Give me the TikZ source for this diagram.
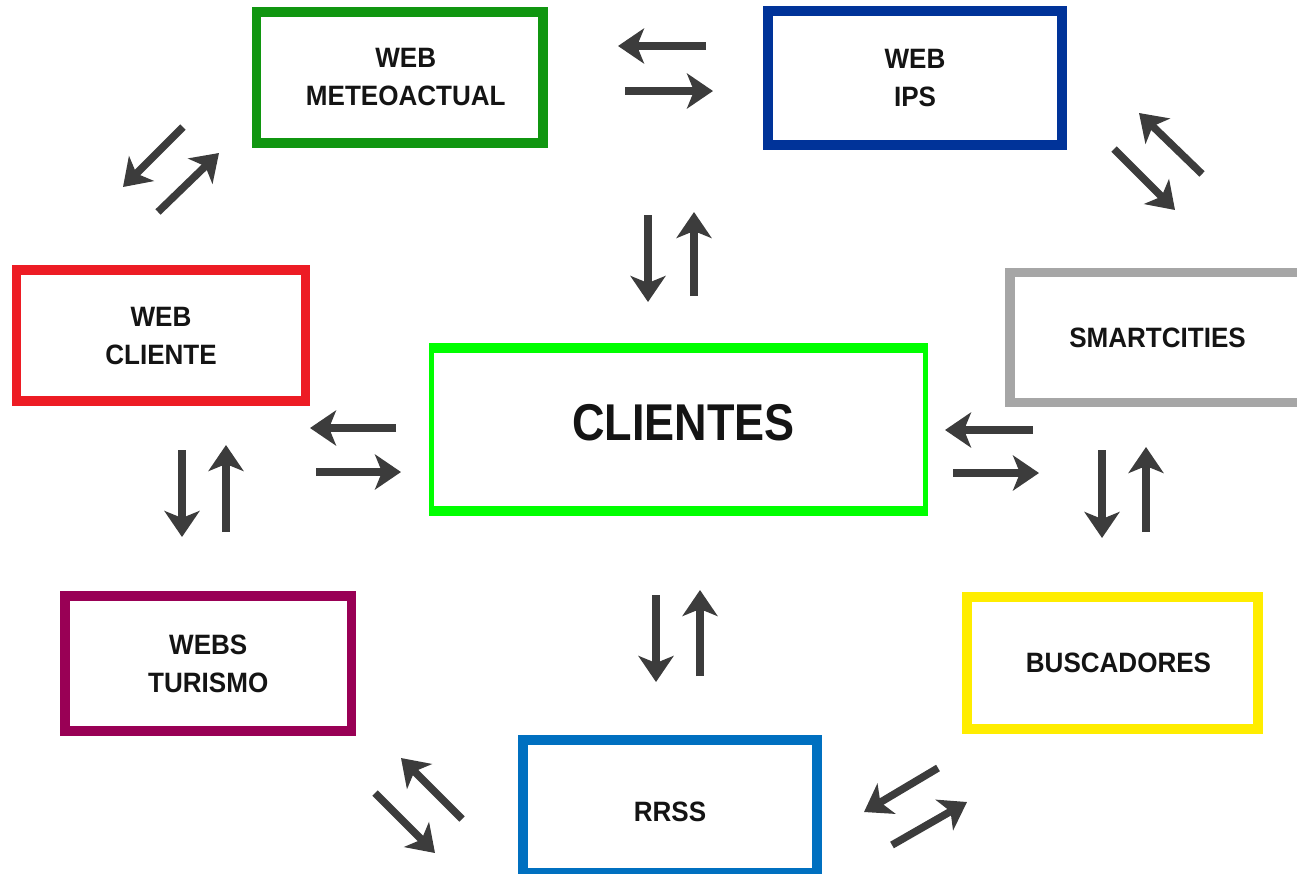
\documentclass[tikz,border=0pt]{standalone}
\usepackage{fontspec}
\setmainfont{Liberation Sans}
\newfontfamily\lblfont{Liberation Sans}[FakeStretch=0.93]
\usetikzlibrary{arrows.meta}
\definecolor{cMeteo}{RGB}{16,150,16}
\definecolor{cIps}{RGB}{0,51,153}
\definecolor{cCliente}{RGB}{237,28,36}
\definecolor{cClientes}{RGB}{0,255,0}
\definecolor{cSmart}{RGB}{166,166,166}
\definecolor{cTurismo}{RGB}{153,0,85}
\definecolor{cBusca}{RGB}{255,237,0}
\definecolor{cRrss}{RGB}{0,112,192}
\definecolor{arrowgray}{RGB}{60,60,60}
\tikzset{
  box/.style={draw, line width=9.5pt, fill=white, inner sep=0pt, align=center,
    font=\lblfont\bfseries\fontsize{28}{38}\selectfont, text=black!92},
  arr/.style={draw=arrowgray, line width=7.5pt,
    -{Stealth[length=26pt,width=35pt,inset=7pt]}},
}
\begin{document}
\begin{tikzpicture}[x=1pt,y=-1pt]
\useasboundingbox (0,0) rectangle (1297,873);
% boxes
\node[box, draw=cMeteo, minimum width=286.5pt, minimum height=131pt] (meteo) at (399.75,77.5) {\hspace*{12pt}WEB\\\hspace*{12pt}METEOACTUAL};
\node[box, draw=cIps, minimum width=294pt, minimum height=134pt] (ips) at (915,78) {WEB\\IPS};
\node[box, draw=cCliente, minimum width=289pt, minimum height=131pt] (cliente) at (161,335.5) {WEB\\CLIENTE};
\node[box, draw=cTurismo, minimum width=286.5pt, minimum height=135pt] (turismo) at (208.25,663.5) {WEBS\\TURISMO};
\node[box, draw=cSmart, minimum width=295pt, minimum height=130pt] (smart) at (1157.5,337.5) {SMARTCITIES};
\node[box, draw=cBusca, minimum width=291pt, minimum height=132pt] (busca) at (1112.5,663) {\hspace*{12pt}BUSCADORES};
\node[box, draw=cRrss, minimum width=294pt, minimum height=133pt] (rrss) at (670,806.5) {\rule{0pt}{31pt}RRSS};
\node[box, draw=cClientes, line width=5pt, minimum width=494pt, minimum height=163pt,
      font=\bfseries\fontsize{45}{50}\selectfont] (clientes) at (678.5,429)
      {\hspace*{10pt}\scalebox{1}[1.15]{CLIENTES}\rule[-13pt]{0pt}{1pt}};
\draw[cClientes, line width=10pt] ([yshift=-2.5pt]clientes.north west) -- ([yshift=-2.5pt]clientes.north east);
\draw[cClientes, line width=10pt] ([yshift=2.5pt]clientes.south west) -- ([yshift=2.5pt]clientes.south east);
% arrow end points
\coordinate (a1s) at (706,46);   \coordinate (a1e) at (618,46);
\coordinate (a2s) at (625,91);   \coordinate (a2e) at (713,91);
\coordinate (a3s) at (183,127);  \coordinate (a3e) at (123,187);
\coordinate (a4s) at (158,212);  \coordinate (a4e) at (219,153);
\coordinate (a5s) at (1202,174); \coordinate (a5e) at (1139,113);
\coordinate (a6s) at (1114,149); \coordinate (a6e) at (1175,210);
\coordinate (a7s) at (648,215);  \coordinate (a7e) at (648,302);
\coordinate (a8s) at (694,296);  \coordinate (a8e) at (694,212);
\coordinate (a9s) at (396,428);  \coordinate (a9e) at (310,428);
\coordinate (a10s) at (316,472); \coordinate (a10e) at (401,472);
\coordinate (a11s) at (1033,430);\coordinate (a11e) at (945,430);
\coordinate (a12s) at (953,473); \coordinate (a12e) at (1039,473);
\coordinate (a13s) at (182,450); \coordinate (a13e) at (182,537);
\coordinate (a14s) at (226,532); \coordinate (a14e) at (226,445);
\coordinate (a15s) at (1102,450);\coordinate (a15e) at (1102,538);
\coordinate (a16s) at (1146,532);\coordinate (a16e) at (1146,447);
\coordinate (a17s) at (656,595); \coordinate (a17e) at (656,682);
\coordinate (a18s) at (700,676); \coordinate (a18e) at (700,590);
\coordinate (a19s) at (462,819); \coordinate (a19e) at (401,758);
\coordinate (a20s) at (375,793); \coordinate (a20e) at (435,853);
\coordinate (a21s) at (938,768); \coordinate (a21e) at (864,812);
\coordinate (a22s) at (892,845); \coordinate (a22e) at (967,802);
\foreach \i in {1,...,22} { \draw[arr] (a\i s) -- (a\i e); }
\end{tikzpicture}
\end{document}
